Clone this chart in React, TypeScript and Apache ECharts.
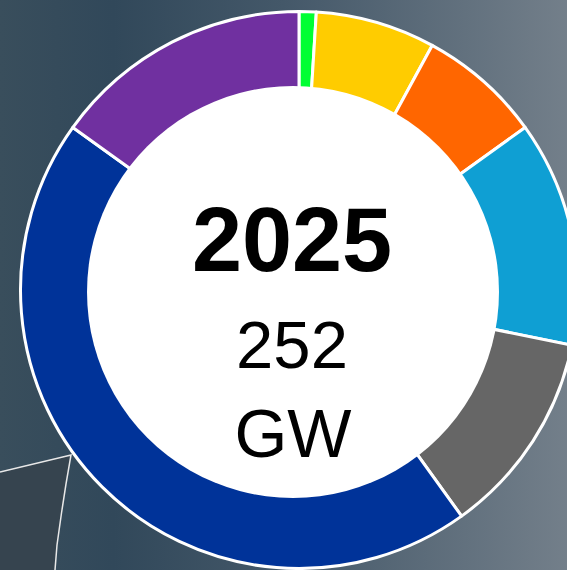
import React, { useEffect, useRef } from "react";
import * as echarts from "echarts";

const categories = ["Hydrogen", "Solar", "Biomass", "Hydro", "Other", "Wind", "Gas"];
const values = [2.5, 17.5, 18, 33, 30, 113, 38];
const colors = ["#00ff33", "#ffcc00", "#ff6600", "#0f9fd3", "#666666", "#003399", "#7030a0"];
const yearLabel = "2025";
const totalLabel = "252";
const unitLabel = "GW";

export default function App() {
  const ref = useRef<HTMLDivElement>(null);
  useEffect(() => {
    document.body.style.margin = "0";
    const chart = echarts.init(ref.current!, null, { renderer: "svg" });
    const font = "'Liberation Sans', Arial, sans-serif";
    chart.setOption({
      animation: false,
      backgroundColor: new echarts.graphic.LinearGradient(0, 0, 1, 0, [
        { offset: 0, color: "#394e5c" },
        { offset: 0.2, color: "#31485a" },
        { offset: 0.5, color: "#445869" },
        { offset: 1, color: "#737f8a" },
      ]),
      graphic: [
        {
          type: "polygon",
          z: 0,
          shape: {
            points: [
              [0, 472],
              [71, 455],
              [66, 484],
              [61.5, 513],
              [57, 545],
              [55, 570],
              [0, 570],
            ],
          },
          style: { fill: "#36444f" },
        },
        {
          type: "polyline",
          z: 1,
          shape: {
            points: [
              [0, 472],
              [71, 455],
              [66, 484],
              [61.5, 513],
              [57, 545],
              [55, 570],
            ],
          },
          style: { stroke: "#e8e8e8", lineWidth: 1.5, fill: null },
        },
        {
          type: "circle",
          z: 100,
          shape: { cx: 293, cy: 292, r: 206 },
          style: { fill: "#ffffff" },
        },
        {
          type: "text",
          z: 101,
          x: 292,
          y: 240,
          style: {
            text: yearLabel,
            fill: "#000",
            font: `bold 90px ${font}`,
            textAlign: "center",
            textVerticalAlign: "middle",
          },
        },
        {
          type: "text",
          z: 101,
          x: 292,
          y: 344,
          style: {
            text: totalLabel,
            fill: "#000",
            font: `67px ${font}`,
            textAlign: "center",
            textVerticalAlign: "middle",
          },
        },
        {
          type: "text",
          z: 101,
          x: 293,
          y: 432.5,
          style: {
            text: unitLabel,
            fill: "#000",
            font: `68px ${font}`,
            textAlign: "center",
            textVerticalAlign: "middle",
          },
        },
      ],
      series: [
        {
          type: "pie",
          center: [299, 290],
          radius: [0, 278.5],
          startAngle: 90,
          clockwise: true,
          silent: true,
          label: { show: false },
          labelLine: { show: false },
          emphasis: { disabled: true },
          itemStyle: { borderColor: "#ffffff", borderWidth: 3 },
          data: categories.map((name, i) => ({
            name,
            value: values[i],
            itemStyle: { color: colors[i] },
          })),
        },
      ],
    });
    return () => chart.dispose();
  }, []);
  return (
    <div
      ref={ref}
      style={{ position: "absolute", left: 0, top: 0, width: 567, height: 570 }}
    />
  );
}
